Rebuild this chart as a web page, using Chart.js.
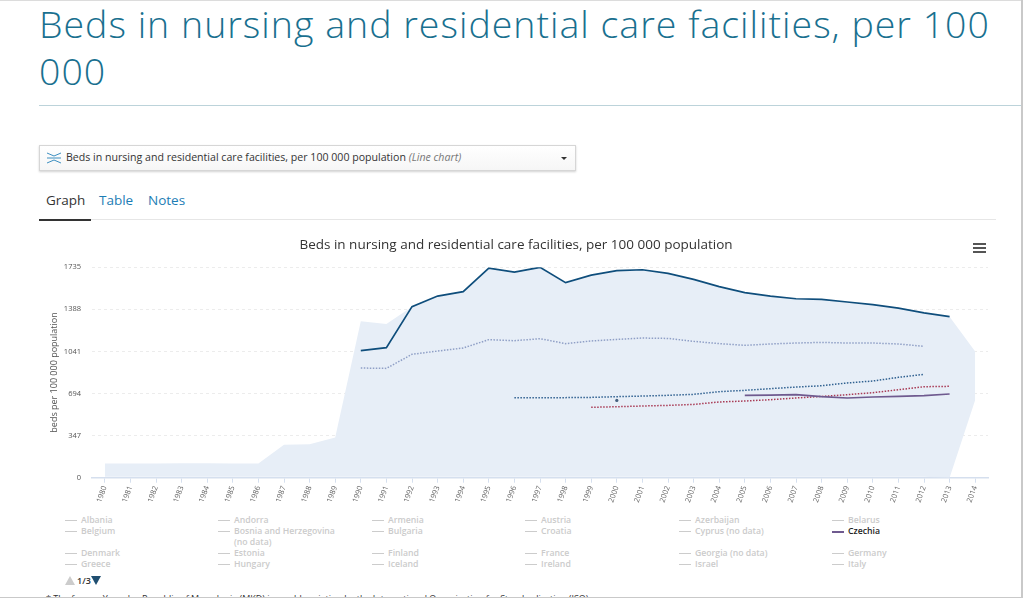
<!DOCTYPE html>
<html><head><meta charset="utf-8">
<script src="https://cdn.jsdelivr.net/npm/chart.js@4"></script>
<style>
html,body{margin:0;padding:0;background:#fff;width:1023px;height:598px;overflow:hidden;font-family:"Open Sans",sans-serif}
.abs{position:absolute;white-space:nowrap}
#h1{left:39px;top:0px;width:960px;white-space:normal;font-size:37.5px;line-height:47px;color:#19708f;font-weight:300;letter-spacing:1px}
#rule{left:39px;top:105px;width:984px;height:1px;background:#bcd3da}
#sel{left:39px;top:145px;width:535px;height:24px;border:1px solid #d6d6d6;box-shadow:0 1px 2px rgba(0,0,0,.18);background:linear-gradient(#fff,#f6f6f6)}
#sel span.t{position:absolute;left:26px;top:4px;font-size:10.6px;line-height:15px;color:#333}
#sel i{color:#777}
#caret{position:absolute;left:521px;top:11px;width:0;height:0;border-left:3px solid transparent;border-right:3px solid transparent;border-top:3.5px solid #333}
#icon{position:absolute;left:7px;top:6px;width:14px;height:12px}
.tab{top:191px;font-size:13.5px;line-height:18px;color:#1c7db5}
#tabline{left:39px;top:219px;width:957px;height:1px;background:#e6e6e6}
#tabact{left:39px;top:219px;width:52px;height:2px;background:#333}
#cv{position:absolute;left:39px;top:232px}
.bar{left:973px;width:13px;height:2px;background:#555}
.lg{font-size:8.7px;line-height:11px;font-weight:600;color:#cbcbcb;white-space:normal;width:112px}
.dash{height:1px;width:12px;background:#cccccc}
#pg{left:77px;top:575px;font-size:9px;line-height:12px;font-weight:600;color:#333}
#foot{left:46px;top:593px;font-size:9px;line-height:12px;color:#333}
#edge{left:1021px;top:0;width:2px;height:598px;background:#c9c9c9}
#edgeb{left:0;top:597px;width:1023px;height:1px;background:#c9c9c9}
#edget{left:0;top:0;width:1023px;height:1px;background:#dcdcdc}
</style></head><body>
<div class="abs" id="edget"></div>
<div class="abs" id="h1">Beds in nursing and residential care facilities, per 100 000</div>
<div class="abs" id="rule"></div>
<div class="abs" id="sel">
<svg id="icon" viewBox="0 0 14 12"><g fill="none" stroke="#3d8fc0" stroke-width="1"><path d="M0 1 L7 4 L14 1"/><path d="M0 6 L14 6"/><path d="M0 11 L7 8 L14 11"/></g></svg>
<span class="t">Beds in nursing and residential care facilities, per 100 000 population <i>(Line chart)</i></span><div id="caret"></div></div>
<div class="abs tab" style="left:46px;color:#333">Graph</div>
<div class="abs tab" style="left:99px">Table</div>
<div class="abs tab" style="left:148px">Notes</div>
<div class="abs" id="tabline"></div><div class="abs" id="tabact"></div>
<canvas id="cv" width="954" height="280"></canvas>
<div class="abs bar" style="top:243px"></div><div class="abs bar" style="top:247px"></div><div class="abs bar" style="top:251px"></div>
<div id="legend"></div>
<svg class="abs" style="left:65px;top:576px" width="38" height="10"><path d="M0 9 L5 0 L10 9 Z" fill="#cccccc"/><path d="M26 0 L36 0 L31 9 Z" fill="#1f4e70"/></svg>
<div class="abs" id="pg">1/3</div>
<div class="abs" id="foot">* The former Yugoslav Republic of Macedonia (MKD) is an abbreviation by the International Organization for Standardization (ISO).</div>
<div class="abs" id="edge"></div><div class="abs" id="edgeb"></div>
<script>
const years = ["1980","1981","1982","1983","1984","1985","1986","1987","1988","1989","1990","1991","1992","1993","1994","1995","1996","1997","1998","1999","2000","2001","2002","2003","2004","2005","2006","2007","2008","2009","2010","2011","2012","2013","2014"];
const yTicks = [0,347,694,1041,1388,1735];
const _ = null;
const rangeHigh = [118,118,118,119,119,118,118,272,275,332,1289,1267,1410,1497,1533,1728,1695,1734,1608,1670,1706,1714,1684,1635,1575,1525,1497,1475,1470,1448,1426,1398,1358,1327,1041];
const rangeLow  = [8,8,8,8,8,8,8,8,8,8,8,8,8,8,8,8,8,8,8,8,8,8,8,8,8,8,8,8,8,8,8,8,8,0,640];
const topSeries = [_,_,_,_,_,_,_,_,_,_,1047,1072,1410,1497,1533,1728,1695,1734,1608,1670,1706,1714,1684,1635,1575,1525,1497,1475,1470,1448,1426,1398,1358,1327,_];
const meanSeries = [_,_,_,_,_,_,_,_,_,_,904,901,1017,1044,1069,1138,1129,1146,1105,1127,1140,1151,1148,1124,1105,1091,1102,1110,1115,1110,1110,1102,1083,_,_];
const blueDotted = [_,_,_,_,_,_,_,_,_,_,_,_,_,_,_,_,660,660,660,662,668,673,679,687,709,720,734,747,758,781,797,827,852,_,_];
const redDotted = [_,_,_,_,_,_,_,_,_,_,_,_,_,_,_,_,_,_,_,580,585,591,596,604,624,632,643,657,670,684,701,725,750,753,_];
const czechia = [_,_,_,_,_,_,_,_,_,_,_,_,_,_,_,_,_,_,_,_,_,_,_,_,_,679,681,684,668,657,665,670,676,690,_];
const singlePoint = [_,_,_,_,_,_,_,_,_,_,_,_,_,_,_,_,_,_,_,_,637,_,_,_,_,_,_,_,_,_,_,_,_,_,_];
const legendNames = ["Albania","Andorra","Armenia","Austria","Azerbaijan","Belarus","Belgium","Bosnia and Herzegovina (no data)","Bulgaria","Croatia","Cyprus (no data)","Czechia","Denmark","Estonia","Finland","France","Georgia (no data)","Germany","Greece","Hungary","Iceland","Ireland","Israel","Italy"];

const fontFam = '"Open Sans",sans-serif';
const line = (label,data,color,width,dash) => ({label,data,borderColor:color,borderWidth:width,borderDash:dash||[],pointRadius:0,fill:false,tension:0,spanGaps:false,borderCapStyle:'butt'});
new Chart(document.getElementById('cv'),{
  type:'line',
  data:{labels:years,datasets:[
    line('Czechia',czechia,'#6f5a8f',1.7),
    line('Lower-level dotted',redDotted,'#a83a55',1.5,[1.5,1.5]),
    line('Upper-level dotted',blueDotted,'#2f6090',1.5,[1.5,1.5]),
    line('Average',meanSeries,'#8f9fc6',1.5,[1.5,1.5]),
    line('Highest',topSeries,'#0f4e7c',1.7),
    {label:'Single value',data:singlePoint,showLine:false,pointRadius:1.6,pointBackgroundColor:'#45607f',pointBorderWidth:0},
    {label:'Range high',data:rangeHigh,borderWidth:0,pointRadius:0,backgroundColor:'#e7eef7',fill:'+1',tension:0},
    {label:'Range low',data:rangeLow,borderWidth:0,pointRadius:0,fill:false,tension:0}
  ]},
  options:{
    responsive:false,animation:false,
    layout:{padding:{left:5,right:5,top:0,bottom:0}},
    plugins:{
      legend:{display:false},tooltip:{enabled:false},
      title:{display:true,text:'Beds in nursing and residential care facilities, per 100 000 population',color:'#333',font:{family:fontFam,size:13.5,weight:'normal'},padding:{top:5,bottom:14}}
    },
    scales:{
      x:{offset:true,
        afterFit(s){s.height=34.3;},
        grid:{drawOnChartArea:false,color:'#d5dfee',tickLength:5},
        border:{color:'#d5dfee',width:1.5},
        ticks:{autoSkip:false,minRotation:70,maxRotation:70,color:'#666',padding:2,font:{family:fontFam,size:7.5}}},
      y:{min:0,max:1735,
        afterFit(s){s.width=48;},
        afterBuildTicks(s){s.ticks=yTicks.map(v=>({value:v}));},
        title:{display:true,text:'beds per 100 000 population',color:'#555',padding:{top:5,bottom:0},font:{family:fontFam,size:9}},
        grid:{color:'#ececec',lineWidth:1,drawTicks:false},
        border:{display:false,dash:[3,3]},
        ticks:{color:'#555',padding:11,font:{family:fontFam,size:7.5},callback:v=>String(v)}}
    }
  }
});
const colX=[65,218,372,525,679,832], rowY=[520,531,553,564];
const rows=[0,0,0,0,0,0,1,1,1,1,1,1,2,2,2,2,2,2,3,3,3,3,3,3];
const lg=document.getElementById('legend');
legendNames.forEach((n,i)=>{
  const x=colX[i%6],y=rowY[rows[i]],on=n==='Czechia';
  const d=document.createElement('div');d.className='abs dash';d.style.cssText=`left:${x}px;top:${y}px;${on?'background:#6f5a8f;height:1.5px':''}`;lg.appendChild(d);
  const t=document.createElement('div');t.className='abs lg';t.textContent=n;t.style.cssText=`left:${x+16}px;top:${y-5}px;${on?'color:#222':''}`;lg.appendChild(t);
});
</script>
</body></html>
